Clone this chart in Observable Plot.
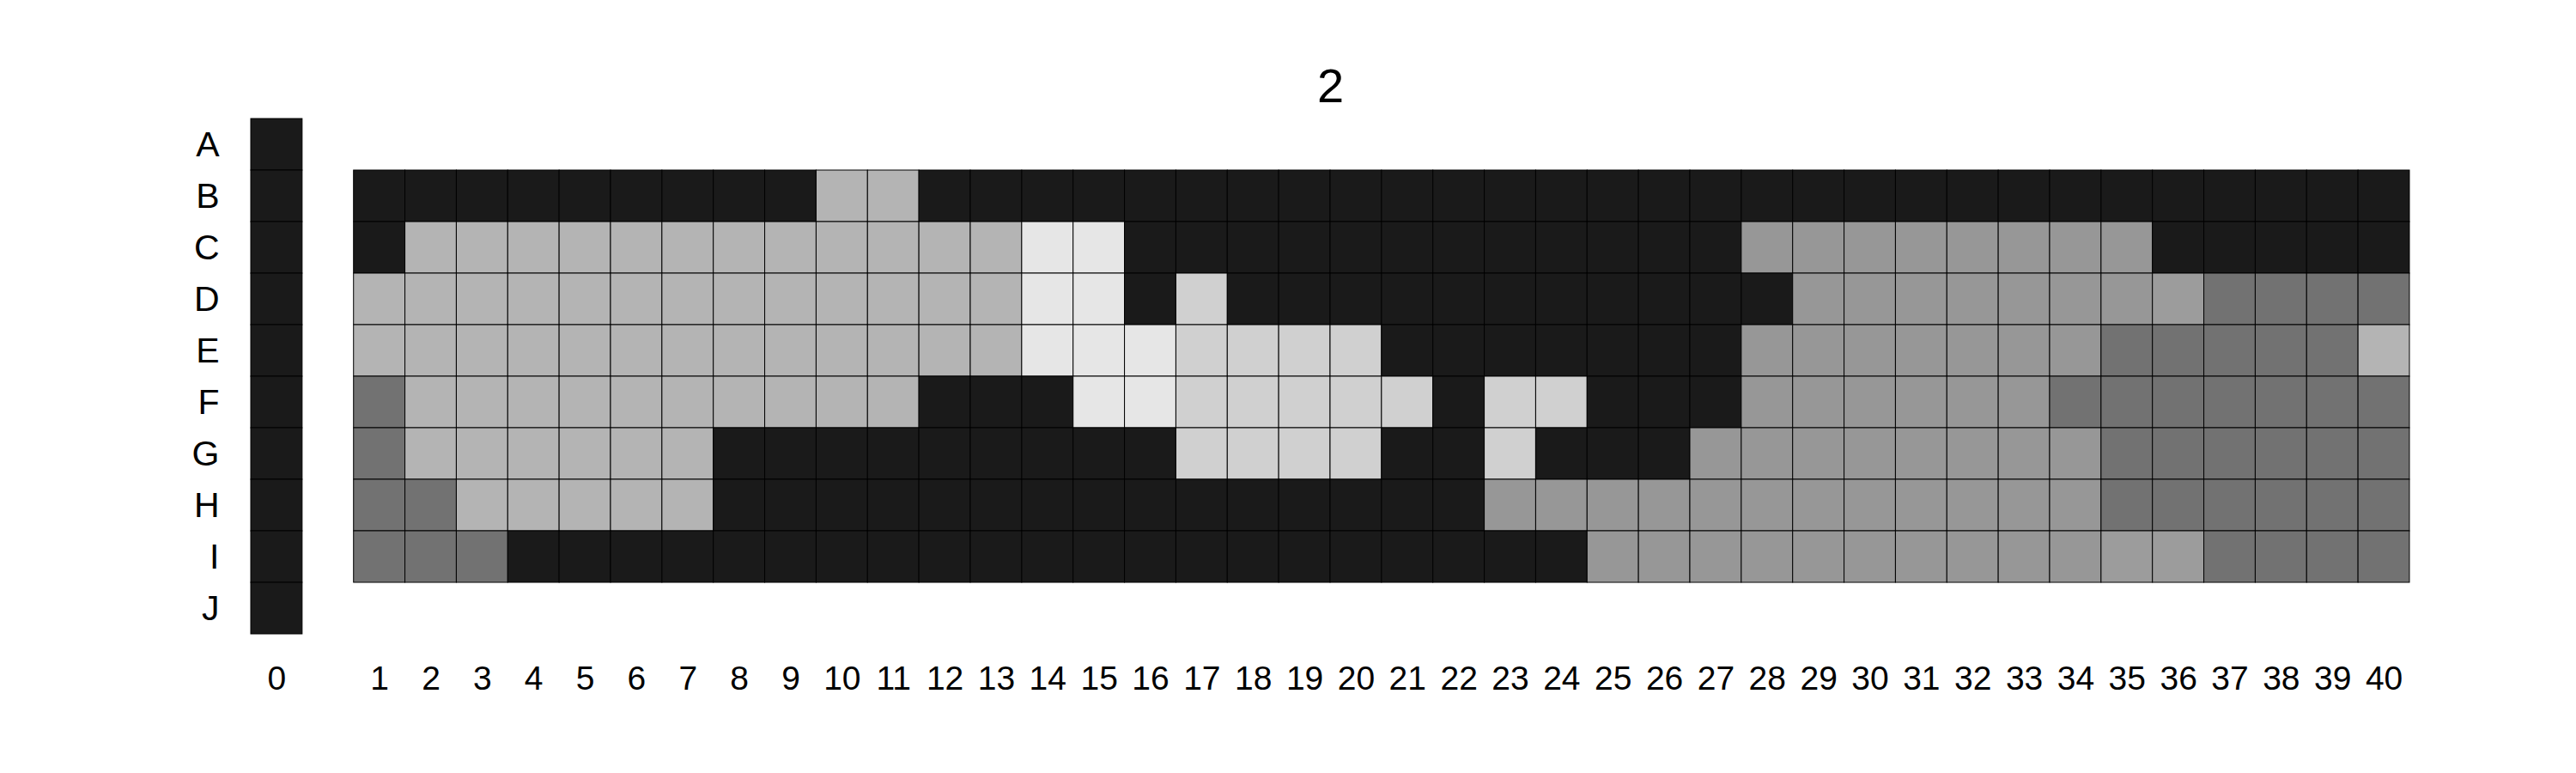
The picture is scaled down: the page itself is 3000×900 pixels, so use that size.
<!DOCTYPE html>
<html>
<head>
<meta charset="utf-8">
<script src="https://cdn.jsdelivr.net/npm/d3@7"></script>
<script src="https://cdn.jsdelivr.net/npm/@observablehq/plot@0.6"></script>
<style>
  html, body { margin: 0; padding: 0; background: #ffffff; }
  #chart svg { display: block; }
</style>
</head>
<body>
<div id="chart"></div>
<script>
// ---- data ----
const title = "2";
const rows = ["A", "B", "C", "D", "E", "F", "G", "H", "I", "J"];
const firstColumn = ["0"];
const columns = ["1","2","3","4","5","6","7","8","9","10",
                 "11","12","13","14","15","16","17","18","19","20",
                 "21","22","23","24","25","26","27","28","29","30",
                 "31","32","33","34","35","36","37","38","39","40"];
const gridRows = ["B", "C", "D", "E", "F", "G", "H", "I"];

// grey level codes: K black, D dark grey, M mid grey, N mid grey (lighter), L light grey, V pale grey, W very pale grey
const levels = ["K", "D", "M", "N", "L", "V", "W"];
const levelColors = ["#1a1a1a", "#727272", "#979797", "#9c9c9c", "#b4b4b4", "#d0d0d0", "#e6e6e6"];

// column 0, rows A..J
const column0 = ["K", "K", "K", "K", "K", "K", "K", "K", "K", "K"];

// columns 1..40 for each row (groups of ten)
const rowB = "KKKKKKKKKL LKKKKKKKKK KKKKKKKKKK KKKKKKKKKK";
const rowC = "KLLLLLLLLL LLLWWKKKKK KKKKKKKMMM MMMMMKKKKK";
const rowD = "LLLLLLLLLL LLLWWKVKKK KKKKKKKKMM MMMMMNDDDD";
const rowE = "LLLLLLLLLL LLLWWWVVVV KKKKKKKMMM MMMMDDDDDL";
const rowF = "DLLLLLLLLL LKKKWWVVVV VKVVKKKMMM MMMDDDDDDD";
const rowG = "DLLLLLLKKK KKKKKKVVVV KKVKKKMMMM MMMMDDDDDD";
const rowH = "DDLLLLLKKK KKKKKKKKKK KKMMMMMMMM MMMMDDDDDD";
const rowI = "DDDKKKKKKK KKKKKKKKKK KKKKMMMMMM MMMMNNDDDD";
const gridValues = [rowB, rowC, rowD, rowE, rowF, rowG, rowH, rowI];

// ---- build table ----
const cells = [];
rows.forEach((r, i) => cells.push({x: firstColumn[0], y: r, level: column0[i]}));
gridRows.forEach((r, i) => {
  const codes = gridValues[i].replace(/ /g, "").split("");
  columns.forEach((c, j) => cells.push({x: c, y: r, level: codes[j]}));
});

const gap = " ";
const xDomain = [...firstColumn, gap, ...columns];

const chart = Plot.plot({
  width: 3000,
  height: 900,
  marginLeft: 292,
  marginRight: 194,
  marginTop: 138,
  marginBottom: 162,
  style: {fontFamily: "'Liberation Sans', Arial, Helvetica, sans-serif", background: "#ffffff", color: "#000000"},
  x: {type: "band", domain: xDomain, padding: 0},
  y: {type: "band", domain: rows, padding: 0},
  color: {type: "ordinal", domain: levels, range: levelColors},
  marks: [
    Plot.cell(cells, {x: "x", y: "y", fill: "level", stroke: "#000000", strokeWidth: 1}),
    Plot.axisX({tickSize: 0, tickPadding: 37, fontSize: 39, tickFormat: d => d === gap ? "" : d, label: null}),
    Plot.axisY({tickSize: 0, tickPadding: 37, fontSize: 41, label: null}),
    Plot.text([title], {frameAnchor: "top", lineAnchor: "bottom", dy: -20, fontSize: 56})
  ]
});
document.getElementById("chart").appendChild(chart);
</script>
</body>
</html>
